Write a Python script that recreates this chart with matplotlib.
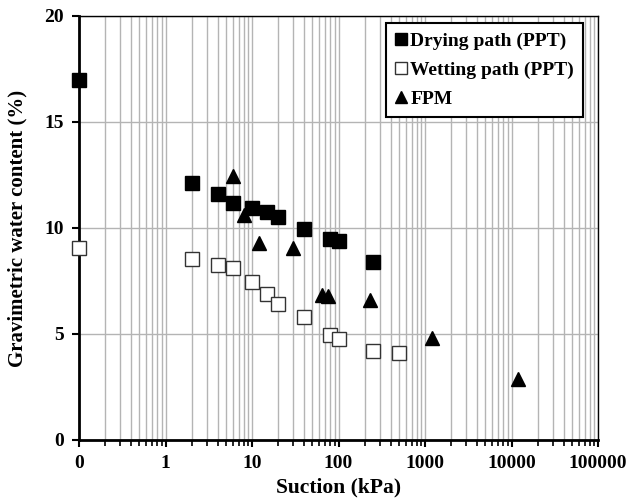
import numpy as np
import matplotlib
matplotlib.use("Agg")
import matplotlib.pyplot as plt
from matplotlib.ticker import FixedLocator, FixedFormatter, LogLocator, NullFormatter

plt.rcParams['font.family'] = ['Liberation Serif', 'DejaVu Serif']
plt.rcParams['font.weight'] = 'bold'

# suction 0 kPa is drawn at 0.1 on the log axis (labelled "0")
drying_x = [0.1, 2, 4, 6, 10, 15, 20, 40, 80, 100, 250]
drying_y = [17.0, 12.1, 11.6, 11.2, 10.95, 10.75, 10.5, 9.95, 9.5, 9.4, 8.4]

wetting_x = [0.1, 2, 4, 6, 10, 15, 20, 40, 80, 100, 250, 500]
wetting_y = [9.05, 8.55, 8.25, 8.1, 7.45, 6.9, 6.4, 5.8, 4.95, 4.75, 4.2, 4.1]

fpm_x = [6, 8, 12, 30, 65, 75, 230, 1200, 12000]
fpm_y = [12.45, 10.6, 9.3, 9.05, 6.85, 6.8, 6.6, 4.8, 2.9]

xtick_vals = [0.1, 1, 10, 100, 1000, 10000, 100000]
xtick_labels = ['0', '1', '10', '100', '1000', '10000', '100000']

fig = plt.figure(figsize=(6.3, 5.03), dpi=100)
ax = fig.add_axes([79 / 630, 63 / 503, 519 / 630, 424 / 503])

ax.set_xscale('log')
ax.set_xlim(0.1, 100000)
ax.set_ylim(0, 20)

ax.plot(drying_x, drying_y, 's', color='black', markersize=10,
        label='Drying path (PPT)', zorder=3, clip_on=False)
ax.plot(wetting_x, wetting_y, 's', markerfacecolor='white', markeredgecolor='#333333',
        markeredgewidth=1.0, markersize=10, label='Wetting path (PPT)', zorder=3, clip_on=False)
ax.plot(fpm_x, fpm_y, '^', color='black', markersize=10, label='FPM', zorder=3, clip_on=False)

ax.xaxis.set_major_locator(FixedLocator(xtick_vals))
ax.xaxis.set_major_formatter(FixedFormatter(xtick_labels))
ax.xaxis.set_minor_locator(LogLocator(base=10, subs=np.arange(2, 10), numticks=20))
ax.xaxis.set_minor_formatter(NullFormatter())
ax.set_yticks([0, 5, 10, 15, 20])

ax.grid(True, which='both', axis='x', color='#b4b4b4', linewidth=1.0)
ax.grid(True, which='major', axis='y', color='#b4b4b4', linewidth=1.0)
ax.set_axisbelow(True)

ax.tick_params(axis='x', which='major', direction='out', length=5, width=1.5, labelsize=14, pad=6)
ax.tick_params(axis='x', which='minor', direction='out', length=4, width=1.2)
ax.tick_params(axis='y', which='major', direction='out', length=5, width=1.5, labelsize=14, pad=6)
for side in ['left', 'bottom']:
    ax.spines[side].set_linewidth(2)
for side in ['top', 'right']:
    ax.spines[side].set_linewidth(1)

ax.set_xlabel('Suction (kPa)', fontsize=15.5, fontweight='bold', labelpad=4)
ax.set_ylabel('Gravimetric water content (%)', fontsize=15, fontweight='bold', labelpad=12)

leg = ax.legend(loc='upper right', bbox_to_anchor=(0.971, 0.983), borderaxespad=0,
                fontsize=14, frameon=True, fancybox=False, edgecolor='black', framealpha=1,
                handlelength=0.6, handletextpad=0.2, borderpad=0.45, labelspacing=0.6,
                markerscale=0.9)
leg.get_frame().set_linewidth(1.5)

fig.savefig('out.png', dpi=100)
